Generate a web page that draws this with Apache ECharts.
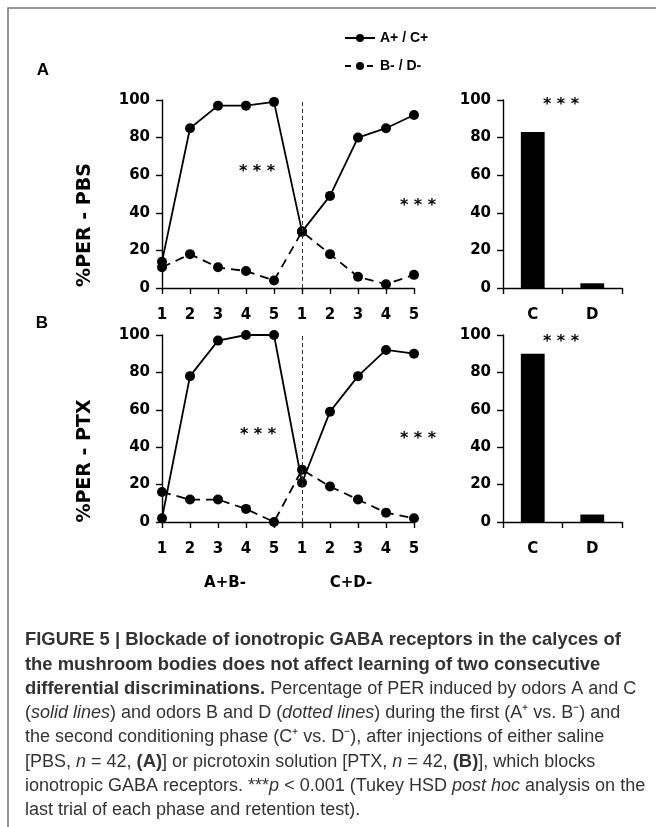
<!DOCTYPE html>
<html>
<head>
<meta charset="utf-8">
<script src="https://cdn.jsdelivr.net/npm/echarts@6/dist/echarts.min.js"></script>
<style>
  html, body { margin: 0; padding: 0; background: #fff; }
  #fig { width: 656px; height: 827px; }
</style>
</head>
<body>
<div id="fig"></div>
<script>
// trials of the two conditioning phases (A+B- then C+D-)
var trialLabels = ['1', '2', '3', '4', '5', '1', '2', '3', '4', '5'];
var testLabels = ['C', 'D'];

// %PER, PBS group (A)
var pbsRewarded = [14, 85, 97, 97, 99, 30, 49, 80, 85, 92];
var pbsUnrewarded = [11, 18, 11, 9, 4, 30, 18, 6, 2, 7];
var pbsRetention = [83, 2.5];

// %PER, PTX group (B)
var ptxRewarded = [2, 78, 97, 100, 100, 21, 59, 78, 92, 90];
var ptxUnrewarded = [16, 12, 12, 7, 0, 28, 19, 12, 5, 2];
var ptxRetention = [90, 4];

var tickFont = { fontFamily: 'DejaVu Sans', fontWeight: 'bold', fontSize: 15, color: '#000' };
var axisLine = { show: true, lineStyle: { color: '#000', width: 1.4 } };
var axisTick = { show: true, length: 6, lineStyle: { color: '#000', width: 1.4 } };

function yAxisFor(grid) {
  return {
    type: 'value', gridIndex: grid, min: 0, max: 100, interval: 20,
    axisLine: axisLine, axisTick: axisTick, splitLine: { show: false },
    axisLabel: Object.assign({ margin: 12 }, tickFont)
  };
}

function trialAxis(grid) {
  return {
    type: 'category', gridIndex: grid, data: trialLabels, boundaryGap: false,
    axisLine: axisLine, axisTick: Object.assign({ interval: 0 }, axisTick),
    axisLabel: Object.assign({ margin: 20, interval: 0 }, tickFont)
  };
}

function testAxis(grid) {
  return {
    type: 'category', gridIndex: grid, data: testLabels,
    axisLine: axisLine, axisTick: axisTick,
    axisLabel: Object.assign({ margin: 20 }, tickFont)
  };
}

var phaseLine = {
  silent: true, symbol: 'none', label: { show: false },
  lineStyle: { color: '#333', width: 1, type: [4, 3] },
  data: [{ xAxis: 5 }]
};

function pairedSeries(grid, values) {
  return {
    name: 'A+ / C+', type: 'line', xAxisIndex: grid, yAxisIndex: grid, data: values,
    symbol: 'circle', symbolSize: 10, itemStyle: { color: '#000' },
    lineStyle: { color: '#000', width: 1.8 }, markLine: phaseLine, z: 3
  };
}

function unpairedSeries(grid, values) {
  return {
    name: 'B- / D-', type: 'line', xAxisIndex: grid, yAxisIndex: grid, data: values,
    symbol: 'circle', symbolSize: 10, itemStyle: { color: '#000' },
    lineStyle: { color: '#000', width: 1.8, type: [9, 6] }, z: 3
  };
}

function barSeries(grid, values) {
  return {
    type: 'bar', xAxisIndex: grid, yAxisIndex: grid, data: values,
    barWidth: '40%', itemStyle: { color: '#000' }
  };
}

function label(txt, x, y, font, extra) {
  return Object.assign({
    type: 'text', x: x, y: y,
    style: { text: txt, font: font, fill: '#000', textAlign: 'center', textVerticalAlign: 'middle' }
  }, extra || {});
}

var stars = 'bold 16px "DejaVu Sans"';
var captionText = [
  '{b|FIGURE 5 | Blockade of ionotropic GABA receptors in the calyces of}',
  '{b|the mushroom bodies does not affect learning of two consecutive}',
  '{b|differential discriminations.}{r| Percentage of PER induced by odors A and C}',
  '{r|(}{i|solid lines}{r|) and odors B and D (}{i|dotted lines}{r|) during the first (A⁺ vs. B⁻) and}',
  '{r|the second conditioning phase (C⁺ vs. D⁻), after injections of either saline}',
  '{r|[PBS, }{i|n}{r| = 42, }{b|(A)}{r|] or picrotoxin solution [PTX, }{i|n}{r| = 42, }{b|(B)}{r|], which blocks}',
  '{r|ionotropic GABA receptors. ***}{i|p}{r| < 0.001 (Tukey HSD }{i|post hoc}{r| analysis on the}',
  '{r|last trial of each phase and retention test).}'
].join('\n');

var chart = echarts.init(document.getElementById('fig'));

var option = {
  animation: false,
  backgroundColor: '#fff',
  grid: [
    { left: 162, top: 100, width: 252, height: 188, outerBoundsMode: 'none' },
    { left: 503, top: 100, width: 119, height: 188, outerBoundsMode: 'none' },
    { left: 162, top: 335, width: 252, height: 187, outerBoundsMode: 'none' },
    { left: 503, top: 335, width: 119, height: 187, outerBoundsMode: 'none' }
  ],
  xAxis: [trialAxis(0), testAxis(1), trialAxis(2), testAxis(3)],
  yAxis: [yAxisFor(0), yAxisFor(1), yAxisFor(2), yAxisFor(3)],
  legend: {
    data: [
      { name: 'A+ / C+' },
      { name: 'B- / D-', lineStyle: { type: [6, 5] } }
    ],
    orient: 'vertical', left: 339, top: 26,
    itemWidth: 30, itemHeight: 10, itemGap: 14,
    textStyle: { fontFamily: 'Liberation Sans', fontWeight: 'bold', fontSize: 14, color: '#000' }
  },
  series: [
    pairedSeries(0, pbsRewarded), unpairedSeries(0, pbsUnrewarded), barSeries(1, pbsRetention),
    pairedSeries(2, ptxRewarded), unpairedSeries(2, ptxUnrewarded), barSeries(3, ptxRetention)
  ],
  graphic: [
    { type: 'polyline', shape: { points: [[8, 827], [8, 8], [656, 8]] },
      style: { stroke: '#777', lineWidth: 1.5, fill: null } },
    label('A', 43, 70, 'bold 17px "Liberation Sans"'),
    label('B', 42, 323, 'bold 17px "Liberation Sans"'),
    label('%PER - PBS', 85, 225, 'bold 19px "DejaVu Sans"', { rotation: Math.PI / 2 }),
    label('%PER - PTX', 85, 461, 'bold 19px "DejaVu Sans"', { rotation: Math.PI / 2 }),
    label('* * *', 257, 172, stars),
    label('* * *', 418, 206, stars),
    label('* * *', 561, 105, stars),
    label('* * *', 258, 435, stars),
    label('* * *', 418, 439, stars),
    label('* * *', 561, 342, stars),
    label('A+B-', 225, 583, 'bold 15px "DejaVu Sans"'),
    label('C+D-', 351, 583, 'bold 15px "DejaVu Sans"'),
    {
      type: 'text', x: 25, y: 628,
      style: {
        text: captionText, fill: '#333',
        rich: {
          b: { fontFamily: 'Liberation Sans', fontWeight: 'bold', fontSize: 18.4, color: '#111', lineHeight: 24.3 },
          r: { fontFamily: 'Liberation Sans', fontSize: 18, color: '#3a3a3a', lineHeight: 24.3 },
          i: { fontFamily: 'Liberation Sans', fontStyle: 'italic', fontSize: 18, color: '#3a3a3a', lineHeight: 24.3 }
        }
      }
    }
  ]
};

chart.setOption(option);
</script>
</body>
</html>
